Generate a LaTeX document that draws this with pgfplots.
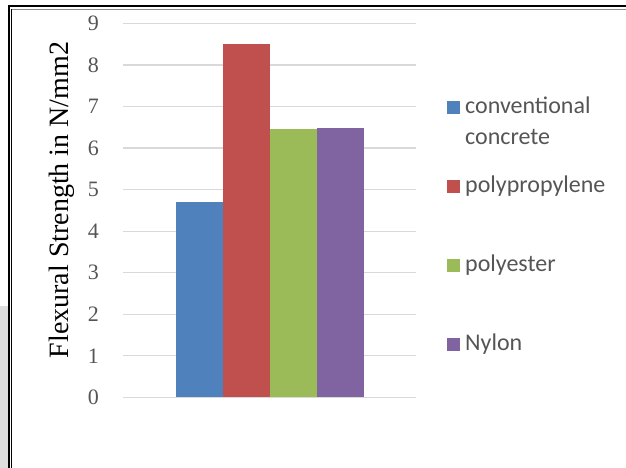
\documentclass[border=0pt]{standalone}
\usepackage{pgfplots}
\pgfplotsset{compat=1.18}
\usepackage{fontspec}
\setmainfont{Liberation Serif}
\newfontfamily\legendfont{Carlito}
\definecolor{cblue}{HTML}{4F81BD}
\definecolor{cred}{HTML}{C0504D}
\definecolor{cgreen}{HTML}{9BBB59}
\definecolor{cpurple}{HTML}{8064A2}
\definecolor{labelgray}{HTML}{555555}
\definecolor{gridgray}{HTML}{D9D9D9}
\pgfplotsset{sqleg/.style={legend image code/.code={\fill[##1] (0pt,-6.5pt) rectangle (13pt,6.5pt);}}}
\begin{document}
\begin{tikzpicture}
\useasboundingbox (0pt,0pt) rectangle (626pt,468pt);
% page shadow and frame
\fill[black!13] (0pt,0pt) rectangle (8pt,162pt);
\draw[line width=1.6pt] (8.8pt,0pt) -- (8.8pt,461.7pt) -- (626pt,461.7pt);
\draw[line width=1.8pt] (11.4pt,0pt) -- (11.4pt,459.3pt);
\draw[black!45, line width=0.8pt] (12.3pt,459.0pt) -- (626pt,459.0pt);
\coordinate (origin) at (123pt,70.7pt);
\begin{axis}[
  at={(origin)}, anchor=south west,
  scale only axis, width=293pt, height=373.8pt,
  xmin=0, xmax=1, ymin=0, ymax=9,
  ytick={0,...,9}, xtick=\empty,
  ymajorgrids, grid style={gridgray, line width=1.2pt},
  axis line style={draw=none}, major tick length=0pt,
  ybar=0pt, bar width=47pt,
  /pgf/number format/assume math mode=true,
  yticklabel style={font=\fontsize{22}{24}\selectfont, text=labelgray, anchor=east, inner sep=0pt, xshift=-24pt},
  ylabel={Flexural Strength in N/mm2},
  ylabel style={font=\fontsize{28}{32}\selectfont, at={(rel axis cs:-0.1877,0.528)}, anchor=base},
  legend cell align=left,
  legend style={draw=none, fill=none, inner sep=0pt, at={(1.1058,0.8029)}, anchor=north west,
    font=\legendfont\fontsize{24}{31.6}\selectfont,
    row sep=59pt, column sep=5pt,
    nodes={inner sep=0pt, text height=16pt, text depth=4pt, anchor=west, text=labelgray}},
]
\addplot[fill=cblue, draw=none, sqleg] coordinates {(0.5,4.70)};
\addlegendentry{\begin{tabular}[t]{@{}l@{}}conventional\\concrete\end{tabular}}
\addplot[fill=cred, draw=none, sqleg] coordinates {(0.5,8.50)};
\addlegendentry{polypropylene}
\addplot[fill=cgreen, draw=none, sqleg] coordinates {(0.5,6.45)};
\addlegendentry{polyester}
\addplot[fill=cpurple, draw=none, sqleg] coordinates {(0.5,6.49)};
\addlegendentry{Nylon}
\end{axis}
\end{tikzpicture}
\end{document}
